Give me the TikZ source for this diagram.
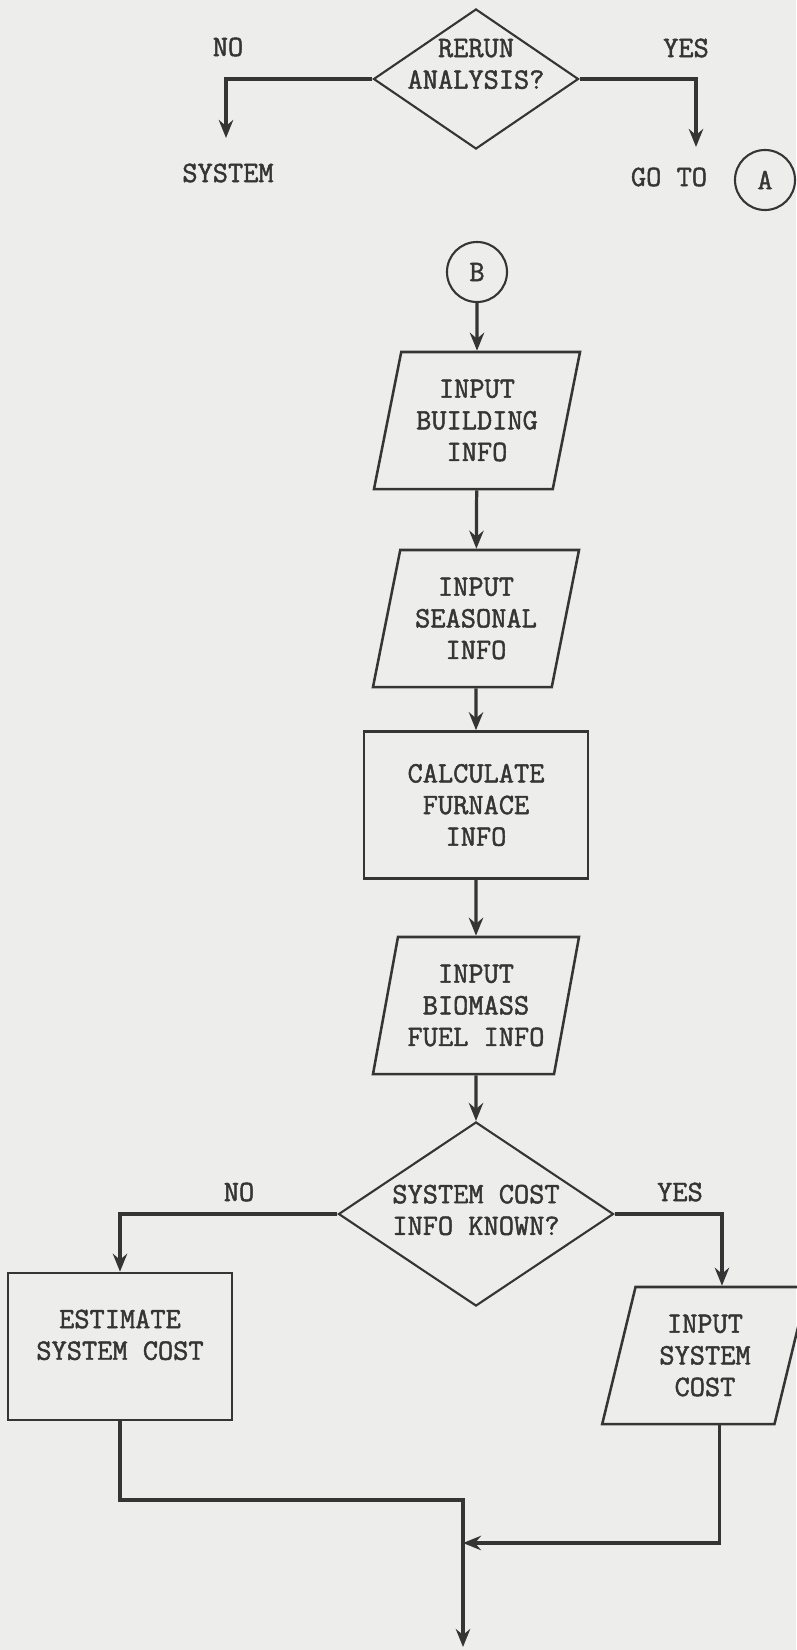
\documentclass[tikz,border=0pt]{standalone}
\usepackage{fontspec}
\setmonofont[FakeBold=1.6]{Latin Modern Mono}
\usetikzlibrary{positioning, shapes.geometric, arrows.meta, calc}
\definecolor{inkgray}{HTML}{353535}
\definecolor{paper}{HTML}{EDEDEB}

\tikzset{
  flowtext/.style={font=\ttfamily\fontsize{21}{22.5}\selectfont, text=inkgray, align=center},
  ioblock/.style={flowtext, draw=inkgray, line width=1.8pt, trapezium,
                  trapezium left angle=75, trapezium right angle=105, trapezium stretches=true,
                  minimum width=5.15cm, minimum height=3.425cm, inner sep=0pt},
  procblock/.style={flowtext, draw=inkgray, line width=1.8pt, rectangle,
                    minimum width=5.6cm, minimum height=3.675cm},
  decision/.style={draw=inkgray, line width=1.5pt, diamond, inner sep=0pt},
  connector/.style={flowtext, draw=inkgray, line width=1.5pt, circle,
                    minimum size=1.5cm, inner sep=0pt},
  flow/.style={draw=inkgray, line width=2.3pt, -{Stealth[length=4.5mm, width=3.6mm, inset=1.5mm]}},
}

\begin{document}
\begin{tikzpicture}[x=0.025cm, y=-0.025cm]
    \useasboundingbox (0,0) rectangle (796,1650);
    \fill[paper] (0,0) rectangle (796,1650);

    % rerun decision
    \node[decision, minimum width=5.125cm, minimum height=3.5cm,
          label={[flowtext, yshift=0.375cm]center:RERUN\\ANALYSIS?}] (rerun) at (476,79) {};
    \node[flowtext] (rerunno) at (228,47) {NO};
    \node[flowtext] (rerunyes) at (686,48) {YES};
    \node[flowtext] (sysexit) at (228,173) {SYSTEM};
    \node[flowtext] (goto) at (669,177) {GO TO};
    \node[connector] (conA) at (765,180) {A};
    \coordinate (noend) at (226,138);
    \coordinate (yesend) at (696,147);
    \draw[flow] (rerun.west) -| (noend);
    \draw[flow] (rerun.east) -| (yesend);

    % main column
    \node[connector] (conB) at (477,272) {B};
    \node[ioblock] (building) at (477,420.5) {INPUT\\BUILDING\\INFO};
    \node[ioblock] (seasonal) at (476,618.5) {INPUT\\SEASONAL\\INFO};
    \node[procblock] (furnace) at (476,805) {CALCULATE\\FURNACE\\INFO};
    \node[ioblock] (biomass) at (476,1005.5) {INPUT\\BIOMASS\\FUEL INFO};
    \node[decision, minimum width=6.875cm, minimum height=4.6cm,
          label={[flowtext, yshift=0.1cm]center:SYSTEM COST\\INFO KNOWN?}] (cost) at (476,1214) {};
    \foreach \a/\b in {conB/building, building/seasonal, seasonal/furnace,
                       furnace/biomass, biomass/cost}{
      \draw[flow] (\a) -- (\b);
    }

    % cost branches
    \node[flowtext] (costno) at (239,1192) {NO};
    \node[flowtext] (costyes) at (680,1192) {YES};
    \node[procblock] (estimate) at (120,1346.5) {ESTIMATE\\SYSTEM COST\\[-0.2cm]\mbox{}};
    \node[ioblock] (syscost) at (705,1355.5) {INPUT\\SYSTEM\\COST};
    \coordinate (join) at (463,1500);
    \coordinate (merge) at (463,1543);
    \coordinate (exit) at (463,1647);
    \draw[flow] (cost.west) -| (estimate.north);
    \draw[flow] (cost.east) -| ($(syscost.top left corner)!0.5!(syscost.top right corner)$);
    \draw[flow] (estimate.south) |- (join) -- (exit);
    \draw[flow] ($(syscost.bottom left corner)!0.68!(syscost.bottom right corner)$) |- (merge);
  \end{tikzpicture}
\end{document}
